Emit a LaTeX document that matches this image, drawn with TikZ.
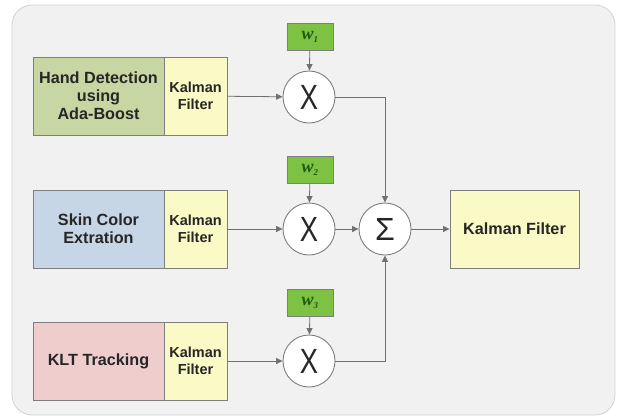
\documentclass[tikz,border=0pt]{standalone}
\usepackage{fontspec}
\setmainfont{Liberation Sans}
\newfontfamily\wfont{Liberation Serif}
\usetikzlibrary{arrows.meta}
\definecolor{panel}{HTML}{F1F1F1}
\definecolor{panelrim}{HTML}{D2D2D2}
\definecolor{handgreen}{HTML}{C8D6A4}
\definecolor{skinblue}{HTML}{C6D6E6}
\definecolor{kltpink}{HTML}{F0CDCD}
\definecolor{kalyellow}{HTML}{FAFAC6}
\definecolor{wgreen}{HTML}{7DC243}
\definecolor{wtext}{HTML}{1E5A10}
\definecolor{rim}{HTML}{7E7E7E}
\begin{document}
\begin{tikzpicture}[x=1pt,y=-1pt,
  >={Triangle[length=6.5pt,width=6pt]},
  box/.style={draw=rim,line width=0.9pt,inner sep=0pt,minimum height=78pt,align=center,
    font=\fontsize{16.2}{18}\selectfont\bfseries,text=black!85},
  kbox/.style={box,fill=kalyellow,minimum width=63pt,font=\fontsize{14.5}{16.5}\selectfont\bfseries},
  wbox/.style={draw=rim,fill=wgreen,line width=0.8pt,inner sep=0pt,minimum width=46pt,minimum height=27pt,
    font=\fontsize{18}{18}\selectfont\wfont\bfseries\itshape,text=wtext},
  op/.style={circle,draw=rim,fill=white,line width=0.9pt,minimum size=52pt,inner sep=0pt,text=black!85},
  wire/.style={draw=rim!90!black,line width=0.8pt}]
  \useasboundingbox (0,0) rectangle (621,418);
  \node[draw=panelrim,fill=panel,rounded corners=20pt,line width=0.8pt,minimum width=603pt,minimum height=410pt,inner sep=0pt] (bg) at (313.5,210) {};

  \node[box,fill=handgreen,minimum width=131pt] (hand) at (98.5,96) {Hand Detection\\using\\Ada-Boost};
  \node[kbox] (kf1) at (195.5,96) {Kalman\\Filter};
  \node[box,fill=skinblue,minimum width=131pt] (skin) at (98.5,229) {Skin Color\\Extration};
  \node[kbox] (kf2) at (195.5,229) {Kalman\\Filter};
  \node[box,fill=kltpink,minimum width=131pt] (klt) at (98.5,361) {KLT Tracking};
  \node[kbox] (kf3) at (195.5,361) {Kalman\\Filter};

  \node[wbox] (w1) at (310,37) {w\textsubscript{\fontsize{9}{9}\selectfont 1}};
  \node[wbox] (w2) at (310,170) {w\textsubscript{\fontsize{9}{9}\selectfont 2}};
  \node[wbox] (w3) at (310,303) {w\textsubscript{\fontsize{9}{9}\selectfont 3}};

  \node[op] (m1) at (309,97) {\fontsize{35}{35}\selectfont\scalebox{0.78}[1]{X}};
  \node[op] (m2) at (309,229) {\fontsize{35}{35}\selectfont\scalebox{0.78}[1]{X}};
  \node[op] (m3) at (309,361) {\fontsize{35}{35}\selectfont\scalebox{0.78}[1]{X}};
  \node[op] (sum) at (385,229) {\fontsize{32}{32}\selectfont Σ};

  \node[box,fill=kalyellow,minimum width=129pt] (kfall) at (514.5,229) {Kalman Filter};

  % weights into the products
  \draw[wire,->] (w1) -- (m1);
  \draw[wire,->] (w2) -- (m2);
  \draw[wire,->] (w3) -- (m3);
  % filtered tracks
  \draw[wire,->] (kf1) -- (m1);
  \draw[wire,->] (kf2) -- (m2);
  \draw[wire,->] (kf3) -- (m3);
  % sum and final filter
  \draw[wire,->] (m1.east) -| (sum.north);
  \draw[wire,->] (m2) -- (sum);
  \draw[wire,->] (m3.east) -| (sum.south);
  \draw[wire,->] (sum) -- (kfall);
\end{tikzpicture}
\end{document}
